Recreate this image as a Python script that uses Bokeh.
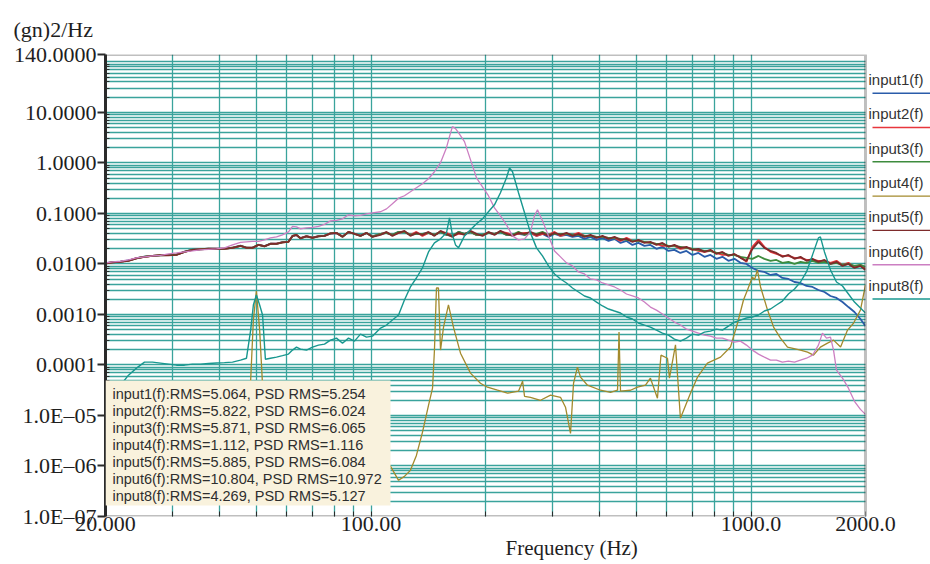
from bokeh.plotting import figure
from bokeh.models import FixedTicker, CustomJSTickFormatter, Label, BoxAnnotation, Title
from bokeh.embed import file_html
from bokeh.resources import INLINE

# ---------------- data ----------------
freq_flat = [20.0, 20.87, 21.9, 22.99, 24.13, 25.33, 26.59, 27.91, 29.3, 30.75,
             32.28, 33.88, 35.57, 37.33, 39.19, 41.13, 43.18, 45.33, 47.0, 48.74,
             50.54, 52.41, 54.36, 56.37, 58.45, 60.62, 62.11, 63.63, 65.19, 67.61,
             70.11, 72.7, 75.4, 78.19, 81.08, 84.09, 87.2, 90.43, 93.78, 97.25, 100.8,
             105.9, 109.8, 113.8, 118.1, 122.4, 126.9, 131.6, 136.5, 141.6, 146.8,
             152.3, 157.9, 163.7, 169.8, 176.1, 182.6, 189.4, 196.4, 203.6, 211.2,
             219.0, 227.2, 235.6, 244.3, 253.4, 262.7, 272.5, 282.5, 293.0, 303.9,
             315.1, 326.8, 338.8, 351.4, 364.4, 377.9, 392.0, 406.5, 421.5, 437.1,
             453.3, 470.0, 487.3, 505.3, 524.0, 543.4, 563.5, 584.4, 606.0, 628.4,
             651.7, 675.9, 700.9, 726.9, 753.8, 781.7, 810.6, 840.6, 871.7, 904.0,
             937.5, 972.3, 1008, 1046, 1084, 1125, 1166, 1209, 1254, 1301,
             1349, 1399, 1451, 1504, 1560, 1618, 1678, 1740, 1804, 1871,
             1940, 2000]

input1 = [0.0104, 0.0108, 0.0111, 0.0117, 0.0130, 0.0139, 0.0145, 0.0149, 0.0150, 0.0153,
          0.0175, 0.0191, 0.0197, 0.0200, 0.0201, 0.0200, 0.0210, 0.0230, 0.0210, 0.0211,
          0.0240, 0.0226, 0.0252, 0.0253, 0.0270, 0.0277, 0.0355, 0.0372, 0.0326, 0.0356,
          0.0333, 0.0356, 0.0362, 0.0400, 0.0408, 0.0350, 0.0425, 0.0398, 0.0364, 0.0408, 0.0350,
          0.0394, 0.0412, 0.0376, 0.0431, 0.0431, 0.0376, 0.0394, 0.0394, 0.0412, 0.0376,
          0.0431, 0.0376, 0.0359, 0.0431, 0.0394, 0.0431, 0.0376, 0.0376, 0.0412, 0.0394,
          0.0431, 0.0376, 0.0376, 0.0394, 0.0376, 0.0412, 0.0359, 0.0394, 0.0344, 0.0394,
          0.0359, 0.0376, 0.0344, 0.0359, 0.0314, 0.0344, 0.0299, 0.0328, 0.0286, 0.0314,
          0.0261, 0.0286, 0.0238, 0.0261, 0.0228, 0.0238, 0.0199, 0.0218, 0.0181, 0.0190,
          0.0165, 0.0181, 0.0151, 0.0165, 0.0138, 0.0151, 0.0126, 0.0138, 0.0115, 0.0126,
          0.0105, 0.0100, 0.00833, 0.00726, 0.00694, 0.00605, 0.00633, 0.00527, 0.00504, 0.00439,
          0.00420, 0.00366, 0.00350, 0.00305, 0.00278, 0.00232, 0.00212, 0.00176, 0.00140, 0.00112,
          0.000812, 0.000589]

input2 = [0.0103, 0.0108, 0.0111, 0.0116, 0.0130, 0.0138, 0.0145, 0.0149, 0.0149, 0.0152,
          0.0174, 0.0190, 0.0196, 0.0200, 0.0200, 0.0200, 0.0209, 0.0229, 0.0209, 0.0209,
          0.0239, 0.0224, 0.0251, 0.0251, 0.0268, 0.0275, 0.0357, 0.0374, 0.0323, 0.0354,
          0.0330, 0.0354, 0.0360, 0.0402, 0.0410, 0.0347, 0.0428, 0.0396, 0.0361, 0.0410, 0.0347,
          0.0394, 0.0412, 0.0376, 0.0412, 0.0431, 0.0376, 0.0431, 0.0359, 0.0412, 0.0376,
          0.0431, 0.0412, 0.0359, 0.0394, 0.0394, 0.0431, 0.0376, 0.0376, 0.0412, 0.0394,
          0.0431, 0.0412, 0.0376, 0.0394, 0.0412, 0.0412, 0.0359, 0.0394, 0.0376, 0.0431,
          0.0359, 0.0394, 0.0376, 0.0412, 0.0359, 0.0359, 0.0344, 0.0344, 0.0328, 0.0328,
          0.0286, 0.0328, 0.0286, 0.0286, 0.0274, 0.0261, 0.0250, 0.0228, 0.0228, 0.0228,
          0.0199, 0.0208, 0.0199, 0.0181, 0.0173, 0.0181, 0.0165, 0.0151, 0.0151, 0.0151,
          0.0138, 0.0110, 0.0218, 0.0299, 0.0218, 0.0173, 0.0158, 0.0144, 0.0144, 0.0132,
          0.0132, 0.0120, 0.0120, 0.0115, 0.0115, 0.0105, 0.0115, 0.00955, 0.0105, 0.00872,
          0.00955, 0.00796]

input3 = [0.0103, 0.0107, 0.0111, 0.0116, 0.0129, 0.0139, 0.0144, 0.0148, 0.0149, 0.0152,
          0.0173, 0.0191, 0.0195, 0.0200, 0.0199, 0.0200, 0.0209, 0.0228, 0.0209, 0.0208,
          0.0239, 0.0223, 0.0251, 0.0250, 0.0268, 0.0274, 0.0358, 0.0375, 0.0322, 0.0353,
          0.0329, 0.0353, 0.0360, 0.0402, 0.0411, 0.0346, 0.0429, 0.0395, 0.0360, 0.0411, 0.0346,
          0.0394, 0.0412, 0.0376, 0.0431, 0.0431, 0.0376, 0.0394, 0.0394, 0.0412, 0.0376,
          0.0431, 0.0376, 0.0359, 0.0431, 0.0394, 0.0431, 0.0376, 0.0376, 0.0412, 0.0394,
          0.0431, 0.0376, 0.0376, 0.0431, 0.0376, 0.0412, 0.0394, 0.0431, 0.0376, 0.0394,
          0.0394, 0.0394, 0.0376, 0.0376, 0.0359, 0.0359, 0.0344, 0.0344, 0.0328, 0.0328,
          0.0314, 0.0299, 0.0286, 0.0286, 0.0274, 0.0261, 0.0250, 0.0250, 0.0228, 0.0228,
          0.0218, 0.0208, 0.0199, 0.0190, 0.0181, 0.0181, 0.0165, 0.0165, 0.0151, 0.0151,
          0.0138, 0.0132, 0.0126, 0.0144, 0.0126, 0.0115, 0.0120, 0.0105, 0.0110, 0.0100,
          0.0110, 0.0105, 0.0115, 0.0105, 0.0110, 0.0100, 0.0105, 0.00955, 0.0100, 0.00913,
          0.00955, 0.00872]

input5 = [0.0102, 0.0107, 0.0110, 0.0115, 0.0129, 0.0138, 0.0144, 0.0148, 0.0148, 0.0151,
          0.0173, 0.0190, 0.0195, 0.0199, 0.0199, 0.0199, 0.0208, 0.0228, 0.0208, 0.0208,
          0.0238, 0.0223, 0.0250, 0.0250, 0.0267, 0.0274, 0.0359, 0.0376, 0.0321, 0.0352,
          0.0328, 0.0352, 0.0359, 0.0403, 0.0412, 0.0344, 0.0431, 0.0394, 0.0359, 0.0412, 0.0344,
          0.0376, 0.0431, 0.0359, 0.0412, 0.0452, 0.0359, 0.0412, 0.0376, 0.0431, 0.0359,
          0.0452, 0.0394, 0.0344, 0.0412, 0.0376, 0.0452, 0.0394, 0.0359, 0.0431, 0.0376,
          0.0452, 0.0394, 0.0359, 0.0412, 0.0394, 0.0431, 0.0376, 0.0412, 0.0359, 0.0412,
          0.0376, 0.0412, 0.0359, 0.0394, 0.0344, 0.0376, 0.0328, 0.0359, 0.0314, 0.0344,
          0.0299, 0.0314, 0.0274, 0.0299, 0.0261, 0.0274, 0.0238, 0.0261, 0.0218, 0.0238,
          0.0208, 0.0218, 0.0190, 0.0199, 0.0173, 0.0190, 0.0158, 0.0173, 0.0144, 0.0158,
          0.0132, 0.0115, 0.0199, 0.0274, 0.0208, 0.0181, 0.0165, 0.0138, 0.0151, 0.0126,
          0.0138, 0.0115, 0.0126, 0.0110, 0.0120, 0.0100, 0.0110, 0.00913, 0.0100, 0.00833,
          0.00913, 0.00760]

freq_in4 = [20.0, 26.3, 35.6, 45.3, 47.0, 48.2, 49.0, 49.9, 50.9, 51.8, 53.1, 55.0, 65.2, 83.1,
            100.8, 105.9, 112.5, 118.1, 122.4, 126.9, 131.6, 136.5, 141.6, 145.1, 146.8, 148.6,
            150.4, 152.3, 155.1, 159.8, 164.7, 171.9, 182.6, 194.0, 202.4, 215.1, 228.6, 244.3,
            250.4, 253.4, 262.7, 279.1, 296.7, 315.1, 324.8, 334.8, 341.0, 349.2, 355.7, 371.1,
            401.5, 426.6, 445.2, 449.2, 453.3, 481.6, 502.4, 527.4, 543.4, 567.0, 579.2, 602.5,
            609.8, 632.5, 651.7, 692.6, 722.6, 767.6, 830.8, 882.6, 921.0, 955.0, 978.4, 1008,
            1021, 1039, 1059, 1105, 1146, 1195, 1247, 1349, 1408, 1460, 1522, 1589, 1648, 1720,
            1794, 1860, 1940, 2000]
input4 = [8.2e-7, 1.03e-6, 1.18e-6, 1.62e-6, 8.0e-6, 5.0e-5, 7.74e-4, 2.91e-3, 4.9e-4, 3.97e-5,
          5.08e-6, 8.2e-7, 4.12e-7, 5.2e-7, 2.56e-6, 1.62e-6, 9.8e-7, 5.2e-7, 6.22e-7, 8.2e-7,
          1.62e-6, 4.64e-6, 1.59e-5, 3.47e-5, 1.97e-4, 3.34e-3, 3.34e-3, 1.97e-4, 5.62e-4, 1.54e-3,
          5.62e-4, 1.71e-4, 6.88e-5, 4.35e-5, 3.63e-5, 3.16e-5, 2.76e-5, 3.02e-5, 4.77e-5, 2.40e-5,
          2.29e-5, 2.0e-5, 2.52e-5, 2.29e-5, 1.46e-5, 4.4e-6, 4.35e-5, 9.04e-5, 5.73e-5, 3.97e-5,
          3.16e-5, 2.88e-5, 3.16e-5, 4.48e-4, 3.02e-5, 3.16e-5, 3.63e-5, 3.97e-5, 5.47e-5, 2.19e-5,
          1.56e-4, 1.36e-4, 5.47e-5, 2.5e-4, 8.8e-6, 2.76e-5, 5.73e-5, 1.09e-4, 1.43e-4, 2.26e-4,
          6.7e-4, 1.93e-3, 3.05e-3, 5.52e-3, 4.82e-3, 7.6e-3, 3.5e-3, 1.22e-3, 5.62e-4, 3.40e-4,
          2.26e-4, 1.97e-4, 1.79e-4, 1.56e-4, 2.26e-4, 2.71e-4, 3.1e-4, 2.26e-4, 4.9e-4, 6.7e-4,
          1.22e-3, 3.83e-3]

freq_in6 = [20.0, 20.87, 21.9, 22.99, 24.13, 25.33, 26.59, 27.91, 29.3, 30.75,
            32.28, 33.88, 35.57, 37.33, 39.19, 41.13, 43.18, 45.33, 47.0, 48.74,
            50.54, 52.41, 54.36, 56.37, 58.45, 60.62, 62.11, 63.63, 65.19, 67.61,
            70.11, 72.7, 75.4, 78.19, 81.08, 84.09, 87.2, 90.43, 93.78, 97.25, 100.8,
            105.9, 109.8, 113.8, 118.1, 122.4, 126.9, 131.6, 136.5, 141.6, 146.8,
            152.3, 157.9, 160.8, 163.7, 166.8, 169.8, 176.1, 182.6, 189.4, 196.4,
            203.6, 211.2, 219.0, 227.2, 235.6, 244.3, 253.4, 262.7, 269.1, 274.1,
            282.5, 293.0, 303.9, 315.1, 326.8, 338.8, 351.4, 364.4, 377.9, 392.0,
            406.5, 421.5, 437.1, 453.3, 470.0, 487.3, 505.3, 524.0, 543.4, 563.5,
            584.4, 606.0, 628.4, 651.7, 675.9, 700.9, 726.9, 753.8, 781.7, 810.6,
            840.6, 871.7, 904.0, 937.5, 972.3, 1008, 1046, 1084, 1125, 1166,
            1209, 1254, 1301, 1349, 1399, 1451, 1504, 1541, 1579, 1618,
            1648, 1678, 1740, 1804, 1871, 1940, 2000]
input6 = [0.0105, 0.0110, 0.0113, 0.0120, 0.0132, 0.0138, 0.0144, 0.0148, 0.0158, 0.0165,
          0.0173, 0.0181, 0.0190, 0.0195, 0.0199, 0.0208, 0.0238, 0.0267, 0.0274, 0.0280,
          0.0280, 0.0299, 0.0328, 0.0344, 0.0376, 0.0431, 0.0554, 0.0542, 0.0495, 0.0518,
          0.0530, 0.0554, 0.0608, 0.0713, 0.0729, 0.0781, 0.0938, 0.0896, 0.0916, 0.0982, 0.103,
          0.108, 0.123, 0.155, 0.200, 0.224, 0.268, 0.322, 0.387, 0.486, 0.668,
          1.01, 2.0, 3.31, 5.22, 4.77, 3.97, 2.64, 1.16, 0.508, 0.337,
          0.224, 0.129, 0.0896, 0.0594, 0.0359, 0.0299, 0.0314, 0.0431, 0.0896, 0.118,
          0.0713, 0.0359, 0.0181, 0.0138, 0.0105, 0.00913, 0.00694, 0.00633, 0.00504, 0.00482,
          0.00420, 0.00383, 0.00350, 0.00305, 0.00254, 0.00232, 0.00212, 0.00176, 0.00140, 0.00122,
          0.00102, 0.000850, 0.000707, 0.000617, 0.000513, 0.000468, 0.000427, 0.000390, 0.000372, 0.000340,
          0.000340, 0.000310, 0.000283, 0.000296, 0.000247, 0.000197, 0.000164, 0.000143, 0.000125, 0.000125,
          0.000114, 0.000119, 0.000114, 0.000125, 0.000136, 0.000156, 0.000247, 0.000427, 0.000340, 0.000356,
          0.000197, 0.0000789, 0.0000547, 0.0000347, 0.0000191, 0.0000132, 0.0000105]

freq_in8 = [20.0, 20.87, 21.9, 22.99, 24.13, 25.33, 26.59, 27.91, 29.3, 30.75,
            32.28, 33.88, 35.57, 37.33, 39.19, 41.13, 43.18, 45.33, 47.0, 48.2,
            49.0, 49.9, 50.9, 51.8, 52.7, 54.36, 56.37, 58.45, 60.62, 62.11,
            63.63, 65.19, 67.61, 70.11, 72.7, 75.4, 78.19, 81.08, 84.09, 87.2,
            90.43, 93.78, 97.25, 100.8,
            105.9, 109.8, 113.8, 118.1, 122.4, 126.9, 131.6, 136.5, 141.6, 146.8,
            152.3, 157.9, 160.8, 163.7, 166.8, 169.8, 176.1, 182.6, 189.4, 196.4,
            203.6, 211.2, 219.0, 227.2, 231.4, 235.6, 244.3, 253.4, 262.7, 272.5,
            282.5, 293.0, 303.9, 315.1, 326.8, 338.8, 351.4, 364.4, 377.9, 392.0,
            406.5, 421.5, 437.1, 453.3, 470.0, 487.3, 505.3, 524.0, 543.4, 563.5,
            584.4, 606.0, 628.4, 651.7, 675.9, 700.9, 726.9, 753.8, 781.7, 810.6,
            840.6, 871.7, 904.0, 937.5, 972.3, 1008, 1046, 1084, 1125, 1166,
            1209, 1254, 1301, 1349, 1399, 1451, 1504, 1522, 1560, 1618,
            1678, 1740, 1804, 1871, 1940, 2000]
input8 = [1.27e-5, 2.19e-5, 3.97e-5, 6.28e-5, 8.66e-5, 1.14e-4, 1.14e-4, 1.09e-4, 1.04e-4, 9.9e-5,
          9.9e-5, 1.04e-4, 1.04e-4, 1.07e-4, 1.09e-4, 1.11e-4, 1.14e-4, 1.25e-4, 1.36e-4, 4.9e-4,
          1.54e-3, 2.43e-3, 1.54e-3, 9.74e-4, 1.30e-4, 1.36e-4, 1.43e-4, 1.53e-4, 1.64e-4, 1.97e-4,
          2.25e-4, 2.06e-4, 1.97e-4, 2.25e-4, 2.47e-4, 2.58e-4, 3.10e-4, 3.40e-4, 2.70e-4, 3.40e-4,
          2.96e-4, 4.08e-4, 3.56e-4, 3.72e-4,
          5.37e-4, 6.17e-4, 7.74e-4, 9.74e-4, 1.93e-3, 3.50e-3, 5.27e-3, 8.33e-3, 0.0173, 0.0261,
          0.0314, 0.0412, 0.0818, 0.0376, 0.0238, 0.0208, 0.0359, 0.0473, 0.0622, 0.0781,
          0.108, 0.148, 0.256, 0.508, 0.80, 0.668, 0.256, 0.103, 0.0412, 0.0208,
          0.0144, 0.00913, 0.00633, 0.00504, 0.00420, 0.00334, 0.00278, 0.00232, 0.00212, 0.00176,
          0.00147, 0.00128, 0.00117, 0.00107, 0.000889, 0.000812, 0.000676, 0.000617, 0.000562, 0.000490,
          0.000427, 0.000390, 0.000325, 0.000296, 0.000340, 0.000408, 0.000390, 0.000447, 0.000468, 0.000513,
          0.000490, 0.000589, 0.000707, 0.000774, 0.000850, 0.000889, 0.000974, 0.00117, 0.00128, 0.00154,
          0.00184, 0.00254, 0.00319, 0.00439, 0.00694, 0.0151, 0.0328, 0.0344, 0.0173, 0.00760,
          0.00439, 0.00366, 0.00254, 0.00176, 0.00134, 0.00107]

series_names = ["input1(f)", "input2(f)", "input3(f)", "input4(f)", "input5(f)", "input6(f)", "input8(f)"]
series_colors = ["#2a5caa", "#e8363c", "#3d8b3d", "#a38a2c", "#7e2b2b", "#cc7fc2", "#18978f"]
rms_labels = ["input1(f):RMS=5.064, PSD RMS=5.254",
              "input2(f):RMS=5.822, PSD RMS=6.024",
              "input3(f):RMS=5.871, PSD RMS=6.065",
              "input4(f):RMS=1.112, PSD RMS=1.116",
              "input5(f):RMS=5.885, PSD RMS=6.084",
              "input6(f):RMS=10.804, PSD RMS=10.972",
              "input8(f):RMS=4.269, PSD RMS=5.127"]

y_tick_values = [1e-7, 1e-6, 1e-5, 1e-4, 1e-3, 1e-2, 0.1, 1.0, 10.0, 140.0]
y_tick_labels = ["1.0E\u201307", "1.0E\u201306", "1.0E\u201305", "0.0001", "0.0010", "0.0100",
                 "0.1000", "1.0000", "10.0000", "140.0000"]
x_tick_values = [20, 100, 1000, 2000]
x_tick_labels = ["20.000", "100.00", "1000.0", "2000.0"]
x_min, x_max = 20, 2000
y_min, y_max = 1e-7, 140

# ---------------- figure ----------------
# The frame runs on to the right page edge so the side legend can live inside it;
# the area right of 2000 Hz is blanked and the plot box is drawn at 20-2000 Hz.
p = figure(width=930, height=564, x_axis_type="log", y_axis_type="log",
           x_range=(x_min, 2966), y_range=(y_min, y_max),
           output_backend="svg", toolbar_location=None,
           min_border_left=105, min_border_right=0, min_border_top=54, min_border_bottom=48)
p.background_fill_color = "white"
p.border_fill_color = "white"
p.outline_line_color = None

p.title.text = "(gn)2/Hz"
p.title.align = "left"
p.title.offset = -92
p.title.standoff = 25
p.title.text_font = "Liberation Serif"
p.title.text_font_size = "22px"
p.title.text_font_style = "normal"
p.title.text_color = "#1e1e1e"

p.add_layout(Title(text="Frequency (Hz)", align="left", offset=400, standoff=1,
                   text_font="Liberation Serif", text_font_size="21px",
                   text_font_style="normal", text_color="#1e1e1e"), "below")

grid_col = "#3aa39c"
x_minor = [k * 10 ** n for n in (1, 2) for k in range(2, 10) if 20 < k * 10 ** n < 1000]
p.xgrid.ticker = FixedTicker(ticks=x_minor + [100, 1000])
p.xgrid.grid_line_color = grid_col
p.xgrid.grid_line_width = 1.3
y_minor = [k * 10.0 ** n for n in range(-7, 3) for k in range(2, 10) if k * 10.0 ** n < 140]
y_decades = [10.0 ** n for n in range(-7, 3)]
p.ygrid.ticker = FixedTicker(ticks=y_decades + y_minor)
p.ygrid.grid_line_color = grid_col
p.ygrid.grid_line_width = 1.3

fmt_code = """
const lt = Math.log10(tick);
for (let i = 0; i < vals.length; i++) {
  if (Math.abs(lt - Math.log10(vals[i])) < 1e-4) { return labs[i]; }
}
return "";
"""
p.yaxis.ticker = FixedTicker(ticks=y_tick_values, minor_ticks=y_minor)
p.yaxis.formatter = CustomJSTickFormatter(args=dict(vals=y_tick_values, labs=y_tick_labels), code=fmt_code)
p.xaxis.ticker = FixedTicker(ticks=x_tick_values, minor_ticks=list(x_minor))
p.xaxis.formatter = CustomJSTickFormatter(args=dict(vals=x_tick_values, labs=x_tick_labels), code=fmt_code)

for ax in (p.xaxis[0], p.yaxis[0]):
    ax.major_tick_line_color = "#2b2b2b"
    ax.minor_tick_line_color = "#2b2b2b"
    ax.major_label_text_font = "Liberation Serif"
    ax.major_label_text_font_size = "22px"
    ax.major_label_text_color = "#1e1e1e"
p.yaxis.axis_line_color = "#2b2b2b"
p.yaxis.axis_line_width = 3
p.yaxis.major_tick_out = 8
p.yaxis.major_tick_in = 0
p.yaxis.major_tick_line_width = 2
p.yaxis.minor_tick_in = 4
p.yaxis.minor_tick_out = 0
p.yaxis.major_label_standoff = 1
p.xaxis.axis_line_color = None
p.xaxis.major_tick_out = 0
p.xaxis.major_tick_in = 5
p.xaxis.minor_tick_in = 5
p.xaxis.minor_tick_out = 0
p.xaxis.major_label_standoff = 0

# ---------------- curves ----------------
curves = [(freq_flat, input1, 1.8), (freq_flat, input2, 1.8), (freq_flat, input3, 1.8),
          (freq_in4, input4, 1.3), (freq_flat, input5, 1.8), (freq_in6, input6, 1.3),
          (freq_in8, input8, 1.4)]
for (fx, vy, lw), col, nm in zip(curves, series_colors, series_names):
    if len(fx) != len(vy):
        raise ValueError(f"{nm}: {len(fx)} freqs vs {len(vy)} values")
    p.line(fx, vy, line_color=col, line_width=lw)

# blank the strip right of 2000 Hz, then draw the plot box
p.add_layout(BoxAnnotation(left=x_max, right=1e6, bottom=1e-12, top=1e6,
                           fill_color="white", fill_alpha=1.0, line_color=None))
p.add_layout(BoxAnnotation(left=x_min, right=x_max, bottom=y_min, top=y_max,
                           fill_alpha=0.0, line_color="#2b2b2b", line_width=3))

# ---------------- RMS box ----------------
p.add_layout(BoxAnnotation(left=105, right=390, top=380, bottom=505,
                           left_units="canvas", right_units="canvas",
                           top_units="canvas", bottom_units="canvas",
                           fill_color="#f9f2dd", fill_alpha=1.0, line_color=None))
for i, t in enumerate(rms_labels):
    p.add_layout(Label(x=112, y=393.5 + 17.0 * i, x_units="canvas", y_units="canvas", text=t,
                       text_font="Liberation Sans", text_font_size="14.5px", text_color="#2e2e2e",
                       text_align="left", text_baseline="middle"))

# ---------------- right-hand legend ----------------
for i, (nm, col) in enumerate(zip(series_names, series_colors)):
    p.add_layout(Label(x=868, y=79 + 34.3 * i, x_units="canvas", y_units="canvas", text=nm,
                       text_font="Liberation Sans", text_font_size="15px", text_color="#333333",
                       text_align="left", text_baseline="middle"))
    ly = 92.7 + 34.3 * i
    p.add_layout(BoxAnnotation(left=872, right=930, top=ly - 0.7, bottom=ly + 0.7,
                               left_units="canvas", right_units="canvas",
                               top_units="canvas", bottom_units="canvas",
                               fill_color=col, fill_alpha=1.0, line_color=None))

open("out.html", "w").write(file_html(p, INLINE))
